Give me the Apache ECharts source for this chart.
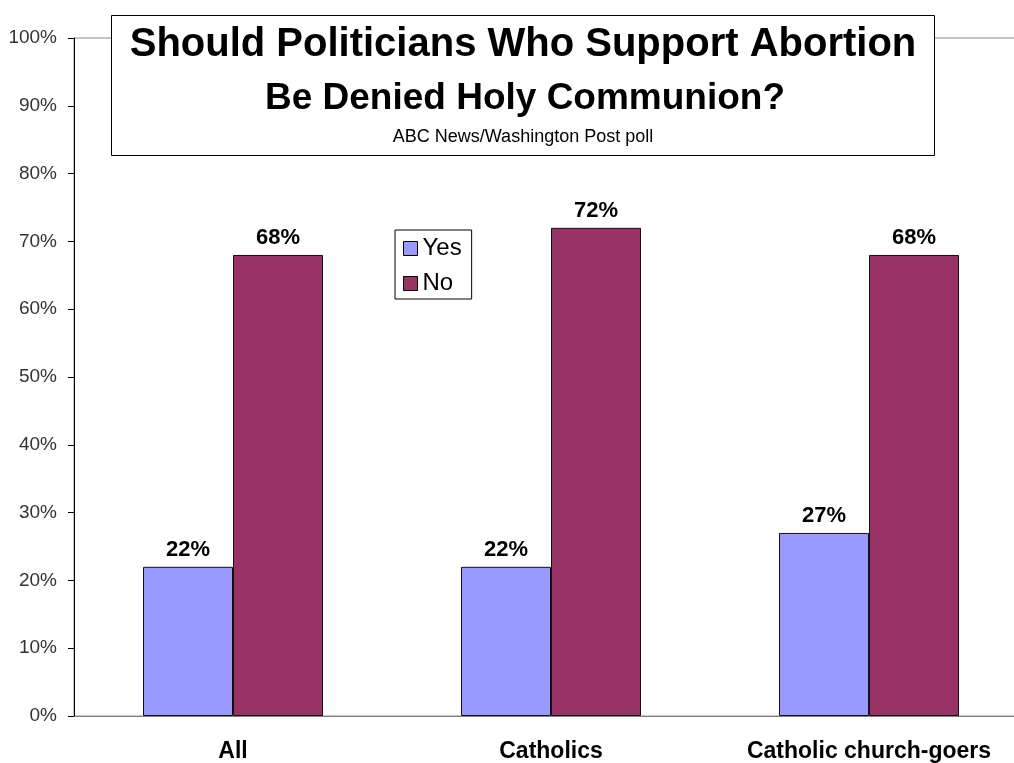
<!DOCTYPE html>
<html><head><meta charset="utf-8">
<script src="https://cdn.jsdelivr.net/npm/echarts@6/dist/echarts.min.js"></script>
<style>html,body{margin:0;padding:0;background:#fff;overflow:hidden;width:1014px;height:763px}#c{width:1028px;height:763px}</style>
</head><body><div id="c"></div>
<script>
const categories = ['All', 'Catholics', 'Catholic church-goers'];
const yesValues = [22, 22, 27];
const noValues = [68, 72, 68];
const titleLine1 = 'Should Politicians Who Support Abortion';
const titleLine2 = 'Be Denied Holy Communion?';
const subtitle = 'ABC News/Washington Post poll';

const chart = echarts.init(document.getElementById('c'));
const font = 'Liberation Sans, Arial, sans-serif';
const labelCfg = {show: true, position: 'top', distance: 6, formatter: '{c}%', fontFamily: font, fontWeight: 'bold', fontSize: 22, color: '#000'};
chart.setOption({
  animation: false,
  grid: {left: 74, top: 38, bottom: 47, right: 0, show: true, borderColor: '#8c8c8c', borderWidth: 1},
  legend: {
    orient: 'vertical', left: 395, top: 230, data: ['Yes', 'No'],
    backgroundColor: '#fff', borderColor: '#000', borderWidth: 1,
    padding: [6, 10, 3, 8], itemGap: 10, itemWidth: 14, itemHeight: 14, icon: 'rect',
    textStyle: {fontFamily: font, fontSize: 24, lineHeight: 25, color: '#000'},
    itemStyle: {borderColor: '#000', borderWidth: 1}
  },
  xAxis: {
    type: 'category', data: categories,
    axisLine: {lineStyle: {color: '#808080', width: 1}},
    axisTick: {length: 7, lineStyle: {color: '#333'}},
    axisLabel: {interval: 0, hideOverlap: false, fontFamily: font, fontWeight: 'bold', fontSize: 23, color: '#000', margin: 24}
  },
  yAxis: {
    type: 'value', min: 0, max: 100, interval: 10,
    axisLine: {show: true, lineStyle: {color: '#000', width: 1}},
    axisTick: {show: true, length: 6, lineStyle: {color: '#000'}},
    splitLine: {show: false},
    axisLabel: {formatter: '{value}%', fontFamily: font, fontSize: 19, color: '#333', margin: 17}
  },
  series: [
    {name: 'Yes', type: 'bar', data: yesValues, barWidth: 90, barGap: '0%',
     itemStyle: {color: '#9999FF', borderColor: '#111', borderWidth: 1}, label: labelCfg},
    {name: 'No', type: 'bar', data: noValues, barWidth: 90,
     itemStyle: {color: '#993366', borderColor: '#111', borderWidth: 1}, label: labelCfg}
  ],
  graphic: [
    {type: 'rect', x: 111.5, y: 15.5, z: 100, shape: {width: 823, height: 140},
     style: {fill: '#fff', stroke: '#000', lineWidth: 1}},
    {type: 'text', x: 523, y: 45, z: 101,
     style: {text: titleLine1, font: 'bold 40px ' + font, fill: '#000', align: 'center', verticalAlign: 'middle'}},
    {type: 'text', x: 525, y: 99, z: 101,
     style: {text: titleLine2, font: 'bold 37px ' + font, fill: '#000', align: 'center', verticalAlign: 'middle'}},
    {type: 'text', x: 523, y: 137, z: 101,
     style: {text: subtitle, font: '18px ' + font, fill: '#000', align: 'center', verticalAlign: 'middle'}}
  ]
});
</script></body></html>
